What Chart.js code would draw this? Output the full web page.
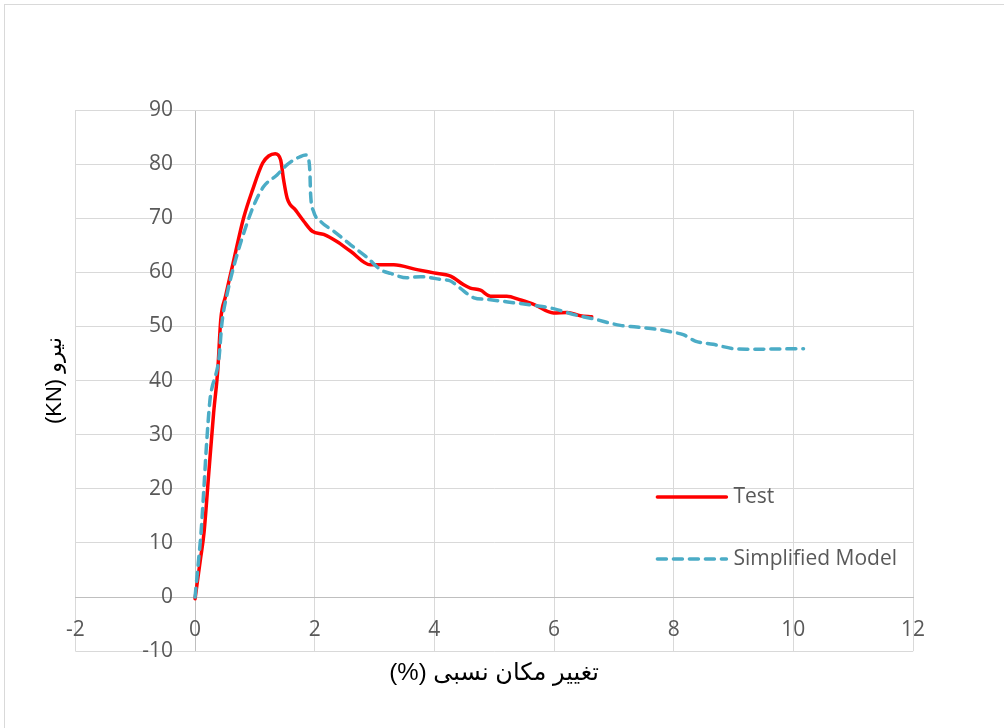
<!DOCTYPE html>
<html>
<head>
<meta charset="utf-8">
<script src="https://cdn.jsdelivr.net/npm/chart.js@4.4.1/dist/chart.umd.min.js"></script>
<style>
  html, body { margin: 0; padding: 0; background: #fff; overflow: hidden; }
  #wrap { position: relative; width: 1004px; height: 728px; overflow: hidden; }
  #frame { position: absolute; left: 4px; top: 4px; width: 1100px; height: 800px; border: 1px solid #d9d9d9; }
  canvas { position: absolute; left: 0; top: 0; }
</style>
</head>
<body>
<div id="wrap">
  <div id="frame"></div>
  <canvas id="chart" width="1004" height="728"></canvas>
</div>
<script>
// drift (%) and force (KN)
const testDrift = [0, 0.09, 0.15, 0.23, 0.31, 0.38, 0.43, 0.51, 0.65, 0.81, 0.96, 1.13, 1.23, 1.34, 1.43, 1.48, 1.54, 1.68, 1.82, 1.96, 2.15, 2.37, 2.60, 2.93, 3.32, 3.71, 3.99, 4.27, 4.49, 4.60, 4.77, 4.94, 5.21, 5.44, 5.66, 5.99, 6.22, 6.44, 6.63];
const testForce = [-0.3, 7.0, 11.9, 23.0, 34.0, 42.0, 51.3, 55.6, 62.4, 70.0, 75.2, 80.2, 81.5, 81.9, 80.8, 77.1, 73.7, 71.5, 69.4, 67.6, 67.0, 65.7, 63.9, 61.4, 61.4, 60.5, 59.9, 59.3, 57.7, 57.1, 56.7, 55.6, 55.6, 54.9, 54.1, 52.5, 52.6, 52.0, 51.8];

const modelDrift = [0, 0.06, 0.10, 0.15, 0.19, 0.25, 0.29, 0.34, 0.40, 0.45, 0.54, 0.68, 0.87, 1.01, 1.15, 1.37, 1.54, 1.76, 1.85, 1.90, 1.92, 1.93, 1.98, 2.10, 2.32, 2.60, 2.88, 3.10, 3.27, 3.54, 3.77, 4.10, 4.27, 4.43, 4.66, 4.88, 5.32, 5.66, 5.99, 6.33, 6.66, 7.11, 7.38, 7.77, 8.00, 8.16, 8.36, 8.66, 9.00, 9.22, 10.17];
const modelForce = [0, 7.0, 11.9, 20.5, 27.9, 36.5, 39.0, 40.8, 44.2, 50.7, 56.2, 62.4, 69.1, 73.1, 75.9, 78.0, 79.9, 81.4, 81.7, 80.8, 78.4, 74.7, 71.3, 69.4, 67.6, 65.1, 62.7, 60.5, 59.8, 59.0, 59.2, 58.7, 58.4, 57.1, 55.3, 55.0, 54.4, 53.9, 53.3, 52.2, 51.4, 50.2, 49.9, 49.4, 48.9, 48.5, 47.3, 46.7, 45.9, 45.8, 45.9];

const xTickValues = [-2, 0, 2, 4, 6, 8, 10, 12];
const yTickValues = [-10, 0, 10, 20, 30, 40, 50, 60, 70, 80, 90];

const seriesNames = ['Test', 'Simplified Model'];
const xTitle = '(%) تغییر مکان نسبی';
const yTitle = '(KN) نیرو';

const tickFont = { family: "'Open Sans', sans-serif", size: 21 };
const yTitleFont = { family: "'Liberation Sans', 'DejaVu Sans', sans-serif", size: 22 };
const xTitleFont = { family: "'Liberation Sans', 'DejaVu Sans', sans-serif", size: 24 };

function toPoints(xs, ys) {
    return xs.map((x, i) => ({ x: x, y: ys[i] }));
}

// legend drawn inside the plot, lower right
const insideLegend = {
    id: 'insideLegend',
    afterDraw(chart) {
        const { ctx, chartArea } = chart;
        ctx.save();
        chart.data.datasets.forEach((ds, i) => {
            const x0 = chartArea.left + 582;
            const y = chartArea.top + 387 + i * 62;
            ctx.strokeStyle = ds.borderColor;
            ctx.lineWidth = ds.borderWidth;
            ctx.lineCap = ds.borderCapStyle || 'butt';
            ctx.setLineDash(ds.borderDash || []);
            ctx.beginPath();
            ctx.moveTo(x0, y);
            ctx.lineTo(x0 + 69, y);
            ctx.stroke();
            ctx.setLineDash([]);
            ctx.fillStyle = '#595959';
            ctx.font = tickFont.size + 'px ' + tickFont.family;
            ctx.textAlign = 'left';
            ctx.textBaseline = 'middle';
            ctx.fillText(ds.label, x0 + 76, y);
        });
        ctx.restore();
    }
};

// grid line at zero doubles as the axis line
const axisOrGrid = (c) => (c.tick && c.tick.value === 0 ? '#bfbfbf' : '#d9d9d9');

const ctx = document.getElementById('chart');

new Chart(ctx, {
    type: 'line',
    data: {
        datasets: [{
            label: seriesNames[0],
            data: toPoints(testDrift, testForce),
            borderColor: '#ff0000',
            borderWidth: 3.5,
            borderCapStyle: 'round',
            pointRadius: 0,
            fill: false,
            cubicInterpolationMode: 'monotone',
            xAxisID: 'x',
            yAxisID: 'y',
            order: 1
        }, {
            label: seriesNames[1],
            data: toPoints(modelDrift, modelForce),
            borderColor: '#4bacc6',
            borderWidth: 3.5,
            borderDash: [9, 7],
            borderCapStyle: 'round',
            pointRadius: 0,
            fill: false,
            cubicInterpolationMode: 'monotone',
            xAxisID: 'x',
            yAxisID: 'y',
            order: 0
        }]
    },
    options: {
        responsive: false,
        animation: false,
        devicePixelRatio: 1,
        layout: { padding: { left: 38, right: 91, top: 110, bottom: 36 } },
        plugins: {
            legend: { display: false },
            tooltip: { enabled: false }
        },
        scales: {
            x: {
                type: 'linear',
                position: { y: 0 },
                min: -2,
                max: 12,
                afterBuildTicks: (scale) => { scale.ticks = xTickValues.map(v => ({ value: v })); },
                grid: { color: axisOrGrid, lineWidth: 1, drawTicks: false },
                border: { color: '#bfbfbf', width: 1 },
                ticks: { color: '#595959', font: tickFont, padding: 20, maxRotation: 0 }
            },
            y: {
                type: 'linear',
                // labels sit a little left of the x = 0 axis line
                position: { x: -0.37 },
                min: -10,
                max: 90,
                afterBuildTicks: (scale) => { scale.ticks = yTickValues.map(v => ({ value: v })); },
                grid: { color: axisOrGrid, lineWidth: 1, drawTicks: false },
                border: { display: false },
                ticks: { color: '#595959', font: tickFont }
            },
            yName: {
                type: 'linear',
                axis: 'y',
                position: 'left',
                grid: { display: false, drawTicks: false },
                border: { display: false },
                ticks: { display: false },
                title: { display: true, text: yTitle, color: '#000', font: yTitleFont, padding: { top: 4, bottom: 7 } }
            },
            xName: {
                type: 'linear',
                axis: 'x',
                position: 'bottom',
                grid: { display: false, drawTicks: false },
                border: { display: false },
                ticks: { display: false },
                title: { display: true, text: xTitle, color: '#000', font: xTitleFont, padding: { top: 8, bottom: 4 } }
            }
        }
    },
    plugins: [insideLegend]
});
</script>
</body>
</html>
